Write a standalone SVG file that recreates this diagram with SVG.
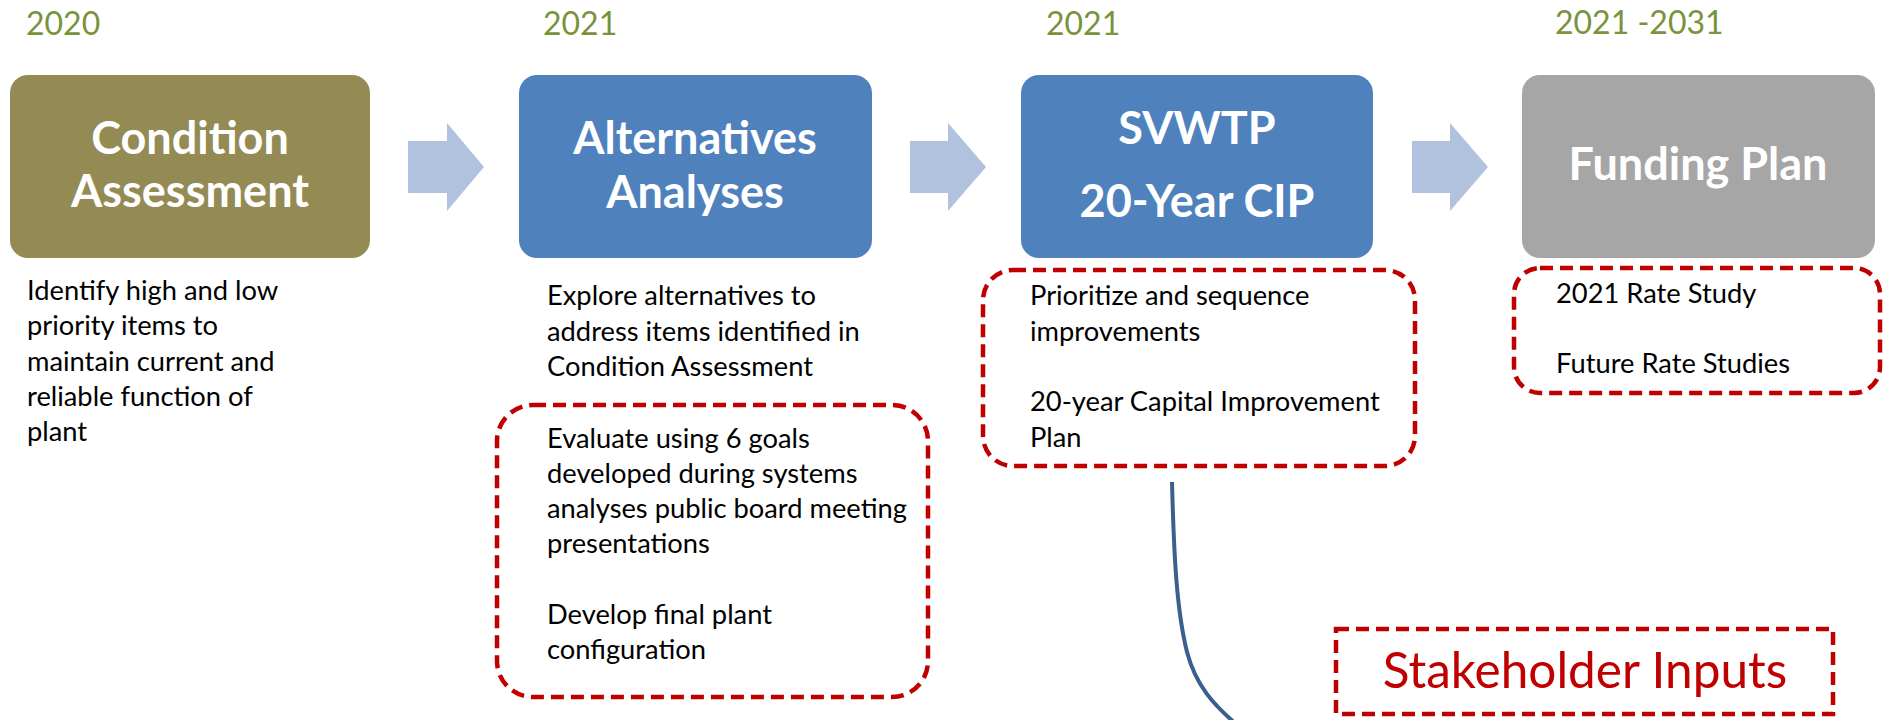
<svg xmlns="http://www.w3.org/2000/svg" width="1890" height="720" viewBox="0 0 1890 720">
<style>
.year{font-family:Lato,"Liberation Sans",sans-serif;font-size:32px;fill:#77933C}
.title{font-family:Lato,"Liberation Sans",sans-serif;font-size:45px;font-weight:bold;fill:#FFFFFF;text-anchor:middle}
.body{font-family:Lato,"Liberation Sans",sans-serif;font-size:27.3px;fill:#000000}
.dash{fill:none;stroke:#C00000;stroke-width:4.5;stroke-dasharray:13 7}
.arrow{fill:#B0C2DE}
</style>
<rect width="1890" height="720" fill="#FFFFFF"/>
<g id="connectors">
<polygon class="arrow" points="408,141 447,141 447,123 484,167 447,211 447,193 408,193"/>
<polygon class="arrow" points="910,141 948,141 948,123 986,167 948,211 948,193 910,193"/>
<polygon class="arrow" points="1412,141 1450,141 1450,123 1488,167 1450,211 1450,193 1412,193"/>
<path d="M1172,482 C1174,560 1177,612 1187,652 C1196,686 1214,705 1236,724" fill="none" stroke="#3B5F8E" stroke-width="4"/>
</g>
<g id="node-condition">
<text class="year" x="26" y="35">2020</text>
<rect x="10" y="75" width="360" height="183" rx="18" fill="#948A54"/>
<text class="title" x="190" y="154">Condition</text>
<text class="title" x="190" y="207">Assessment</text>
<text class="body" x="27" y="300">Identify high and low<tspan x="27" y="335">priority items to</tspan><tspan x="27" y="371">maintain current and</tspan><tspan x="27" y="406">reliable function of</tspan><tspan x="27" y="441">plant</tspan></text>
</g>
<g id="node-alternatives">
<text class="year" x="543" y="35">2021</text>
<rect x="519" y="75" width="353" height="183" rx="18" fill="#4F81BD"/>
<text class="title" x="695" y="154">Alternatives</text>
<text class="title" x="695" y="208">Analyses</text>
<text class="body" x="547" y="305">Explore alternatives to<tspan x="547" y="341">address items identified in</tspan><tspan x="547" y="376">Condition Assessment</tspan></text>
<rect class="dash" x="497" y="405" width="431" height="292" rx="36"/>
<text class="body" x="547" y="448">Evaluate using 6 goals<tspan x="547" y="483">developed during systems</tspan><tspan x="547" y="518">analyses public board meeting</tspan><tspan x="547" y="553">presentations</tspan><tspan x="547" y="624">Develop final plant</tspan><tspan x="547" y="659">configuration</tspan></text>
</g>
<g id="node-cip">
<text class="year" x="1046" y="35">2021</text>
<rect x="1021" y="75" width="352" height="183" rx="18" fill="#4F81BD"/>
<text class="title" x="1197" y="144">SVWTP</text>
<text class="title" x="1197" y="217">20-Year CIP</text>
<rect class="dash" x="983" y="270" width="432" height="196" rx="30"/>
<text class="body" x="1030" y="305">Prioritize and sequence<tspan x="1030" y="341">improvements</tspan><tspan x="1030" y="411">20-year Capital Improvement</tspan><tspan x="1030" y="447">Plan</tspan></text>
</g>
<g id="node-funding">
<text class="year" x="1555" y="34">2021 -2031</text>
<rect x="1522" y="75" width="353" height="183" rx="18" fill="#A6A6A6"/>
<text class="title" x="1698" y="180">Funding Plan</text>
<rect class="dash" x="1514" y="268" width="366" height="125" rx="26"/>
<text class="body" x="1556" y="303">2021 Rate Study<tspan x="1556" y="373">Future Rate Studies</tspan></text>
</g>
<g id="node-stakeholder">
<rect class="dash" x="1336" y="629" width="497" height="85"/>
<text x="1585" y="688" font-family="Lato,'Liberation Sans',sans-serif" font-size="49.5" fill="#C00000" text-anchor="middle">Stakeholder Inputs</text>
</g>
</svg>
